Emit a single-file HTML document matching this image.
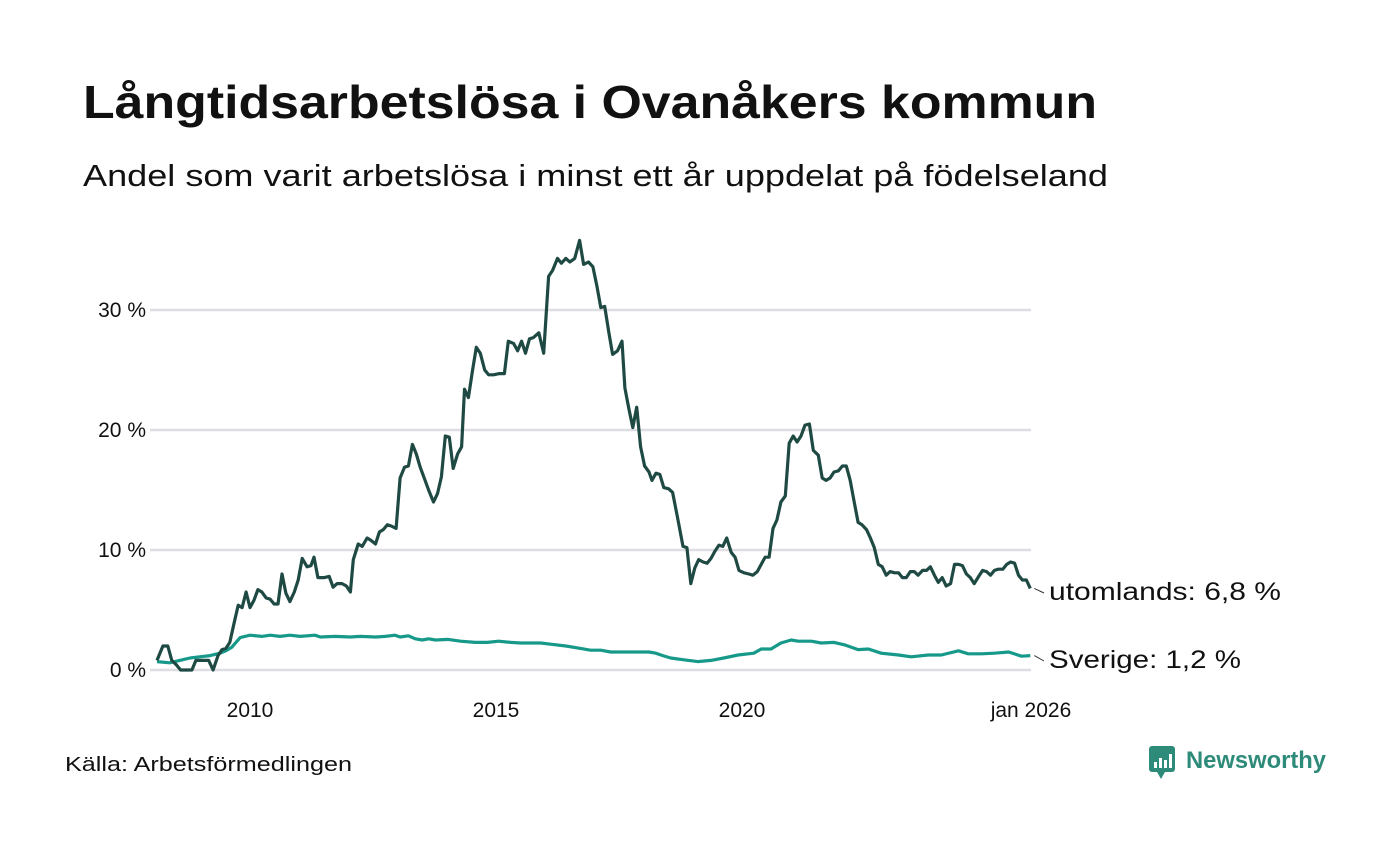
<!DOCTYPE html>
<html><head><meta charset="utf-8">
<style>
html,body{margin:0;padding:0;background:#fff;}
body{width:1400px;height:840px;overflow:hidden;font-family:"Liberation Sans",sans-serif;color:#111;}
</style></head>
<body>
<svg width="1400" height="840" viewBox="0 0 1400 840" xmlns="http://www.w3.org/2000/svg">
<text x="83" y="118" font-size="46" font-weight="bold" fill="#111" textLength="1014" lengthAdjust="spacingAndGlyphs">Långtidsarbetslösa i Ovanåkers kommun</text>
<text x="83" y="186" font-size="31" fill="#111" textLength="1025" lengthAdjust="spacingAndGlyphs">Andel som varit arbetslösa i minst ett år uppdelat på födelseland</text>
<g id="grid"></g>
<g id="yticks"></g>
<g id="xticks"></g>
<g id="series"></g>
<g id="labels"></g>
<text x="65" y="771" font-size="20" fill="#111" textLength="287" lengthAdjust="spacingAndGlyphs">Källa: Arbetsförmedlingen</text>
<g>
<rect x="1149" y="746" width="26" height="26" rx="3" fill="#2e8b7a"/>
<polygon points="1157,772 1165,772 1161,779" fill="#2e8b7a"/>
<rect x="1154" y="762" width="3" height="6" fill="#fff"/><rect x="1159" y="758" width="3" height="10" fill="#fff"/><rect x="1164" y="760" width="3" height="8" fill="#fff"/><rect x="1169" y="754" width="3" height="14" fill="#fff"/>
<text x="1186" y="768" font-size="24" font-weight="bold" fill="#2e8b7a" textLength="140" lengthAdjust="spacingAndGlyphs">Newsworthy</text>
</g>
</svg>
<script>
const yTicks=[0,10,20,30];
const yTickLabels=["0 %","10 %","20 %","30 %"];
const xTicks=[2010,2015,2020,2026];
const xTickLabels=["2010","2015","2020","jan 2026"];
const utomDates=[2008.11,2008.23,2008.33,2008.41,2008.51,2008.59,2008.82,2008.90,2009.16,2009.25,2009.35,2009.43,2009.51,2009.59,2009.67,2009.76,2009.84,2009.92,2010.00,2010.08,2010.16,2010.24,2010.33,2010.41,2010.49,2010.57,2010.65,2010.73,2010.81,2010.90,2010.98,2011.06,2011.16,2011.24,2011.30,2011.38,2011.51,2011.61,2011.69,2011.77,2011.87,2011.96,2012.04,2012.10,2012.20,2012.28,2012.38,2012.46,2012.55,2012.63,2012.71,2012.79,2012.87,2012.97,2013.05,2013.14,2013.22,2013.30,2013.38,2013.46,2013.54,2013.63,2013.73,2013.81,2013.89,2013.97,2014.05,2014.13,2014.22,2014.30,2014.36,2014.44,2014.52,2014.60,2014.68,2014.77,2014.85,2014.95,2015.07,2015.17,2015.25,2015.36,2015.44,2015.52,2015.60,2015.68,2015.76,2015.87,2015.97,2016.07,2016.15,2016.25,2016.33,2016.42,2016.50,2016.60,2016.70,2016.78,2016.88,2016.97,2017.05,2017.13,2017.21,2017.29,2017.37,2017.47,2017.56,2017.62,2017.70,2017.78,2017.86,2017.94,2018.02,2018.11,2018.17,2018.25,2018.33,2018.41,2018.51,2018.59,2018.70,2018.80,2018.88,2018.96,2019.04,2019.12,2019.21,2019.29,2019.37,2019.45,2019.53,2019.61,2019.69,2019.78,2019.86,2019.94,2020.04,2020.14,2020.22,2020.31,2020.39,2020.47,2020.55,2020.63,2020.71,2020.79,2020.88,2020.96,2021.04,2021.12,2021.20,2021.28,2021.37,2021.45,2021.55,2021.63,2021.71,2021.79,2021.87,2021.96,2022.04,2022.12,2022.20,2022.28,2022.36,2022.44,2022.53,2022.61,2022.69,2022.77,2022.85,2022.93,2023.01,2023.10,2023.18,2023.26,2023.34,2023.42,2023.50,2023.58,2023.67,2023.75,2023.83,2023.91,2023.99,2024.07,2024.15,2024.24,2024.32,2024.40,2024.48,2024.56,2024.64,2024.72,2024.81,2024.89,2024.97,2025.05,2025.13,2025.21,2025.30,2025.38,2025.46,2025.54,2025.62,2025.70,2025.78,2025.86];
const utomValues=[0.8,2.0,2.0,0.8,0.4,0,0,0.8,0.8,0,1.2,1.7,1.8,2.3,3.8,5.4,5.2,6.5,5.2,5.8,6.7,6.5,6.0,5.9,5.5,5.5,8.0,6.4,5.7,6.5,7.5,9.3,8.6,8.7,9.4,7.7,7.7,7.8,6.9,7.2,7.2,7.0,6.5,9.2,10.5,10.3,11.0,10.8,10.5,11.5,11.7,12.1,12.0,11.8,16.0,16.9,17.0,18.8,18.0,16.9,16.0,15.0,14.0,14.7,16.1,19.5,19.4,16.8,18.0,18.6,23.4,22.7,24.9,26.9,26.4,25.0,24.6,24.6,24.7,24.7,27.4,27.2,26.6,27.4,26.4,27.6,27.7,28.1,26.4,32.8,33.3,34.3,33.9,34.3,34.0,34.3,35.8,33.8,34.0,33.6,32.0,30.2,30.3,28.2,26.3,26.6,27.4,23.5,21.8,20.2,21.9,18.6,17.0,16.5,15.8,16.4,16.3,15.2,15.1,14.8,12.5,10.3,10.2,7.2,8.5,9.2,9.0,8.9,9.3,9.9,10.4,10.3,11.0,9.8,9.4,8.3,8.1,8.0,7.9,8.2,8.8,9.4,9.4,11.8,12.5,14.0,14.5,18.9,19.5,19.0,19.5,20.4,20.5,18.3,17.9,16.0,15.8,16.0,16.5,16.6,17.0,17.0,15.8,14.0,12.3,12.1,11.7,11.0,10.2,8.8,8.6,7.9,8.2,8.1,8.1,7.7,7.7,8.2,8.2,7.9,8.3,8.3,8.6,7.9,7.3,7.7,7.0,7.2,8.8,8.8,8.7,8.0,7.7,7.2,7.8,8.3,8.2,7.9,8.3,8.4,8.4,8.8,9.0,8.9,7.9,7.5,7.5,6.8];
const sveDates=[2008.11,2008.37,2008.57,2008.78,2008.98,2009.19,2009.39,2009.51,2009.63,2009.80,2010.00,2010.24,2010.41,2010.61,2010.81,2011.02,2011.32,2011.43,2011.73,2012.04,2012.24,2012.55,2012.75,2012.95,2013.05,2013.22,2013.36,2013.50,2013.63,2013.77,2014.03,2014.28,2014.58,2014.83,2015.05,2015.30,2015.50,2015.91,2016.11,2016.42,2016.72,2016.92,2017.13,2017.33,2017.64,2017.94,2018.11,2018.25,2018.39,2018.55,2018.82,2019.10,2019.37,2019.63,2019.92,2020.24,2020.39,2020.59,2020.79,2021.00,2021.14,2021.41,2021.61,2021.87,2022.08,2022.36,2022.57,2022.83,2023.18,2023.44,2023.79,2024.05,2024.40,2024.60,2024.87,2025.13,2025.42,2025.68,2025.86];
const sveValues=[0.7,0.6,0.8,1.0,1.1,1.2,1.4,1.6,1.9,2.7,2.9,2.8,2.9,2.8,2.9,2.8,2.9,2.75,2.8,2.75,2.8,2.75,2.8,2.9,2.75,2.85,2.6,2.5,2.6,2.5,2.55,2.4,2.3,2.3,2.4,2.3,2.25,2.25,2.15,2.0,1.8,1.65,1.65,1.5,1.5,1.5,1.5,1.4,1.2,1.0,0.85,0.7,0.8,1.0,1.25,1.4,1.75,1.75,2.25,2.5,2.4,2.4,2.25,2.3,2.1,1.7,1.75,1.4,1.25,1.1,1.25,1.25,1.6,1.35,1.35,1.4,1.5,1.15,1.2];
const seriesNames=["utomlands","Sverige"];

const NS="http://www.w3.org/2000/svg";
const X0=150,X1=1031;
function xs(t){return 250+(t-2010)*(742-250)/10;}
function ys(v){return 670-v*12;}
function mk(tag,attrs,parent){const e=document.createElementNS(NS,tag);for(const k in attrs)e.setAttribute(k,attrs[k]);parent.appendChild(e);return e;}
const grid=document.getElementById('grid'),yt=document.getElementById('yticks'),xt=document.getElementById('xticks'),ser=document.getElementById('series'),lab=document.getElementById('labels');
yTicks.forEach((v,i)=>{
  const l=mk('line',{x1:X0,x2:X1,y1:ys(v),y2:ys(v),stroke:'#dedde2','stroke-width':2.5},grid);
  
  
  const t=mk('text',{x:146,y:ys(v)+7,'text-anchor':'end','font-size':21,fill:'#111'},yt);
  t.textContent=yTickLabels[i];
  
  
});
xTicks.forEach((v,i)=>{
  const x=(v===2026)?X1:xs(v);
  const t=mk('text',{x:x,y:717,'text-anchor':'middle','font-size':21,fill:'#111'},xt);
  t.textContent=xTickLabels[i];
  
  
});
function line(dates,vals,color,name){
  const d=dates.map((t,i)=>(i?'L':'M')+xs(t).toFixed(1)+','+ys(vals[i]).toFixed(1)).join('');
  const p=mk('path',{d:d,fill:'none',stroke:color,'stroke-width':3.2,'stroke-linejoin':'round'},ser);
  
  
}
line(sveDates,sveValues,'#17998a','line-sverige');
line(utomDates,utomValues,'#1f4a44','line-utomlands');
function endLabel(dates,vals,name,ty,w){
  const n=vals.length-1,ex=xs(dates[n])+4,ey=ys(vals[n]);
  const l=mk('path',{d:'M'+ex+','+ey+' L1044,'+(ty-7),fill:'none',stroke:'#333','stroke-width':1},lab);
  
  
  const t=mk('text',{x:1049,y:ty,'font-size':25,fill:'#111',textLength:w,lengthAdjust:'spacingAndGlyphs'},lab);
  t.textContent=name+': '+vals[n].toFixed(1).replace('.',',')+' %';
  
  
}
endLabel(utomDates,utomValues,seriesNames[0],600,232);
endLabel(sveDates,sveValues,seriesNames[1],668,192);
</script>
</body></html>
